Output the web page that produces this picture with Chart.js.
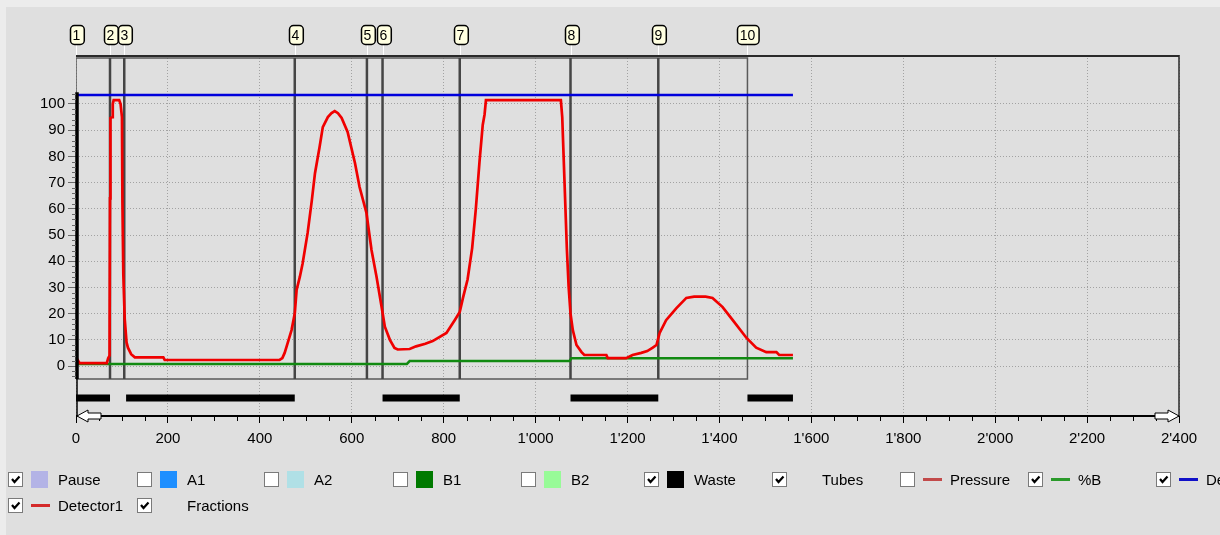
<!DOCTYPE html>
<html lang="en">
<head>
<meta charset="UTF-8" />
<title>Fraction run</title>
<script src="https://cdn.jsdelivr.net/npm/chart.js"></script>
<style>
  html, body { margin: 0; padding: 0; overflow: hidden; }
  body { width: 1220px; height: 535px; background: #ececec; position: relative;
         font-family: "Liberation Sans", Arial, sans-serif; }
  #panel { position: absolute; left: 6px; top: 7px; right: 0; bottom: 0; background: #dfdfdf; }
  #graph { position: absolute; left: 0; top: 0; }
  .leg { position: absolute; height: 15px; font-size: 15px; color: #000; white-space: nowrap; }
  .cb { position: absolute; left: 0; top: 0; width: 13px; height: 13px; background: #fff;
        border: 1px solid #7a7a7a; }
  .cb svg { position: absolute; left: 1px; top: 1px; }
  .sw { position: absolute; left: 23px; top: -1px; width: 17px; height: 17px; }
  .ln { position: absolute; left: 23px; top: 6px; width: 19px; height: 3px; }
  .tx { position: absolute; left: 50px; top: -1px; line-height: 17px; }
</style>
</head>
<body>
<div id="panel"></div>
<canvas id="graph" width="1220" height="535"></canvas>
<div id="legend"></div>

<script>
// ---- data (x = volume / time, y = signal) ----
const detTime = [0, 4, 8, 67, 70, 73, 74, 75, 79, 80, 82, 94, 97, 100, 101, 103, 106, 110, 113, 120, 128, 190, 193,
  443, 449, 454, 461, 469, 476, 480, 487, 493, 504, 513, 520, 530, 537, 548, 556, 563, 570, 578, 591, 607, 617, 632,
  643, 654, 665, 672, 683, 693, 700, 726, 740, 760, 776, 806, 824, 835, 842, 852, 862, 870, 878, 885, 889, 892,
  1055, 1058, 1063, 1068, 1072, 1076, 1081, 1089, 1100, 1106, 1154, 1157, 1197, 1211, 1230, 1243, 1255, 1263, 1270,
  1284, 1306, 1328, 1345, 1370, 1385, 1407, 1429, 1459, 1480, 1502, 1524, 1530, 1560];
const detSignal = [1.5, 2.2, 1.1, 1.1, 3, 4, 64, 94.6, 95, 100, 101.5, 101.5, 100, 95, 62.6, 34.7, 18, 9, 7, 4.5, 3.3, 3.3, 2.3,
  2.3, 3, 5, 9, 13.7, 20, 29, 34, 39, 50.8, 63, 73.6, 83.6, 91.2, 95, 96.5, 97.3, 96.5, 94.7, 89.3, 77.5, 68.3, 58.4,
  44.3, 34, 22.5, 15, 10, 6.9, 6.3, 6.5, 7.5, 8.5, 9.5, 12.6, 17.5, 20.6, 26, 33, 45, 60, 78, 92, 96, 101.5,
  101.5, 95, 70, 45, 30, 20, 13.7, 8, 5.3, 4.2, 4.2, 3, 3, 4.2, 5, 5.7, 7, 8, 12.6,
  17.5, 22, 26, 26.5, 26.5, 26, 22.5, 17.5, 10.7, 7, 5.3, 5.3, 4.2, 4.2];

const pctBTime = [0, 720, 726, 1074, 1078, 1560];
const pctBValue = [0.8, 0.8, 1.9, 1.9, 3.0, 3.0];

const det2Time = [0, 1560];
const det2Value = [103.4, 103.4];

const fracTimes = [0, 74, 105, 476, 633, 667, 835, 1076, 1267, 1461];
const fracLabels = ['1', '2', '3', '4', '5', '6', '7', '8', '9', '10'];

const wasteStart = [0, 109, 667, 1076, 1461];
const wasteEnd = [74, 476, 835, 1267, 1560];

const xTicks = [0, 200, 400, 600, 800, 1000, 1200, 1400, 1600, 1800, 2000, 2200, 2400];
const yTicks = [0, 10, 20, 30, 40, 50, 60, 70, 80, 90, 100];

const legendRow1 = [
  { label: 'Pause', on: true, mark: 'box', color: '#b3b3e6' },
  { label: 'A1', on: false, mark: 'box', color: '#1e8fff' },
  { label: 'A2', on: false, mark: 'box', color: '#b0e0e6' },
  { label: 'B1', on: false, mark: 'box', color: '#007a00' },
  { label: 'B2', on: false, mark: 'box', color: '#98fb98' },
  { label: 'Waste', on: true, mark: 'box', color: '#000000' },
  { label: 'Tubes', on: true, mark: 'none' },
  { label: 'Pressure', on: false, mark: 'line', color: '#c24a4a' },
  { label: '%B', on: true, mark: 'line', color: '#2a9a2a' },
  { label: 'De', on: true, mark: 'line', color: '#1010c8' }
];
const legendRow2 = [
  { label: 'Detector1', on: true, mark: 'line', color: '#d42a2a' },
  { label: 'Fractions', on: true, mark: 'none' }
];

// ---- layout constants ----
const FONT = '"Liberation Sans", Arial, sans-serif';
const Y_MIN = -19.08, Y_MAX = 118.7;
const BOX_TOP = 117.6, BOX_BOTTOM = -5;
const WASTE_LEVEL = -12.2;

const pts = (xs, ys) => xs.map((x, i) => ({ x: x, y: ys[i] }));

function fmtNum(v) {
  if (v < 1000) return String(v);
  return Math.floor(v / 1000) + "'" + String(v % 1000).padStart(3, '0');
}

const wastePts = [];
wasteStart.forEach((s, i) => {
  wastePts.push({ x: s, y: WASTE_LEVEL }, { x: wasteEnd[i], y: WASTE_LEVEL }, { x: wasteEnd[i], y: null });
});

const fracLinePts = [];
fracTimes.slice(1, -1).forEach(t => {
  fracLinePts.push({ x: t, y: BOX_BOTTOM }, { x: t, y: BOX_TOP }, { x: t, y: null });
});
const fracLast = fracTimes[fracTimes.length - 1];
const fracBoxPts = [
  { x: 0, y: BOX_BOTTOM }, { x: fracLast, y: BOX_BOTTOM }, { x: fracLast, y: BOX_TOP },
  { x: 0, y: BOX_TOP }, { x: 0, y: BOX_BOTTOM }
];

// axes, arrows, fraction labels
const decor = {
  id: 'decor',
  afterDraw(chart) {
    const { ctx, chartArea: a, scales: { x, y } } = chart;
    ctx.save();
    // frame top / right
    ctx.strokeStyle = '#2a2a2a';
    ctx.lineWidth = 2;
    ctx.beginPath(); ctx.moveTo(a.left, a.top + 1); ctx.lineTo(a.right, a.top + 1); ctx.stroke();
    ctx.lineWidth = 1.5;
    ctx.beginPath(); ctx.moveTo(a.right, a.top); ctx.lineTo(a.right, a.bottom); ctx.stroke();

    // y axis
    ctx.strokeStyle = '#000';
    ctx.lineWidth = 1.5;
    ctx.beginPath(); ctx.moveTo(a.left + 1, y.getPixelForValue(-5)); ctx.lineTo(a.left + 1, a.bottom); ctx.stroke();
    ctx.lineWidth = 3.5;
    ctx.beginPath(); ctx.moveTo(a.left + 1, y.getPixelForValue(104.5)); ctx.lineTo(a.left + 1, y.getPixelForValue(-5)); ctx.stroke();
    ctx.strokeStyle = '#6a6a6a';
    ctx.lineWidth = 1;
    for (let v = -4; v <= 104; v += 2) {
      if (v % 10 === 0 && v >= 0 && v <= 100) continue;
      const py = Math.round(y.getPixelForValue(v)) + 0.5;
      ctx.beginPath(); ctx.moveTo(a.left - 4, py); ctx.lineTo(a.left, py); ctx.stroke();
    }

    // x axis + minor ticks
    ctx.strokeStyle = '#000';
    ctx.lineWidth = 1;
    for (let v = 50; v < 2400; v += 50) {
      if (v % 200 === 0) continue;
      const px = Math.round(x.getPixelForValue(v)) + 0.5;
      ctx.beginPath(); ctx.moveTo(px, a.bottom); ctx.lineTo(px, a.bottom + 5); ctx.stroke();
    }
    ctx.lineWidth = 2;
    ctx.beginPath(); ctx.moveTo(a.left, a.bottom); ctx.lineTo(a.right, a.bottom); ctx.stroke();

    // arrows
    const arrow = (tip, dir) => {
      const yb = a.bottom;
      ctx.beginPath();
      ctx.moveTo(tip, yb);
      ctx.lineTo(tip + dir * 11, yb - 6);
      ctx.lineTo(tip + dir * 11, yb - 3);
      ctx.lineTo(tip + dir * 24, yb - 3);
      ctx.lineTo(tip + dir * 24, yb + 3);
      ctx.lineTo(tip + dir * 11, yb + 3);
      ctx.lineTo(tip + dir * 11, yb + 6);
      ctx.closePath();
      ctx.fillStyle = '#fff';
      ctx.fill();
      ctx.lineWidth = 1;
      ctx.strokeStyle = '#000';
      ctx.stroke();
    };
    arrow(a.left + 1, 1);
    arrow(a.right, -1);

    // fraction labels
    ctx.font = '14px ' + FONT;
    ctx.textAlign = 'center';
    ctx.textBaseline = 'middle';
    fracTimes.forEach((t, i) => {
      const px = Math.round(x.getPixelForValue(t)) + 0.5;
      ctx.strokeStyle = '#ffffff';
      ctx.lineWidth = 1;
      ctx.beginPath(); ctx.moveTo(px, 45); ctx.lineTo(px, a.top); ctx.stroke();
      const w = ctx.measureText(fracLabels[i]).width + 6;
      const bx = Math.round(px - w / 2) + 0.5, by = 25.5, h = 19;
      ctx.beginPath();
      ctx.roundRect(bx, by, w, h, 4);
      ctx.fillStyle = '#ffffe1';
      ctx.fill();
      ctx.strokeStyle = '#000';
      ctx.lineWidth = 1.5;
      ctx.stroke();
      ctx.fillStyle = '#000';
      ctx.fillText(fracLabels[i], px, by + h / 2 + 1);
    });
    ctx.restore();
  }
};

new Chart(document.getElementById('graph'), {
  type: 'line',
  data: {
    datasets: [
      { data: pts(det2Time, det2Value), borderColor: '#0000dc', borderWidth: 2.5 },
      { data: pts(detTime, detSignal), borderColor: '#f00000', borderWidth: 2.7 },
      { data: pts(pctBTime, pctBValue), borderColor: '#118a11', borderWidth: 2.5 },
      { data: wastePts, borderColor: '#000', borderWidth: 7, borderCapStyle: 'butt' },
      { data: fracLinePts, borderColor: '#454545', borderWidth: 2.5, borderCapStyle: 'butt' },
      { data: fracBoxPts, borderColor: '#5a5a5a', borderWidth: 1.5 }
    ]
  },
  options: {
    responsive: false,
    devicePixelRatio: 1,
    animation: false,
    events: [],
    layout: { padding: { left: 0, right: 41, top: 55, bottom: 0 } },
    elements: { point: { radius: 0 }, line: { tension: 0 } },
    plugins: { legend: { display: false }, tooltip: { enabled: false } },
    scales: {
      x: {
        type: 'linear', min: 0, max: 2400,
        afterBuildTicks: s => { s.ticks = xTicks.map(v => ({ value: v })); },
        afterFit: s => { s.height = 119; },
        grid: { color: '#a2a2a2', lineWidth: 1, tickLength: 7, tickColor: '#000' },
        border: { display: false, dash: [1, 2] },
        ticks: { font: { family: FONT, size: 15 }, color: '#000', padding: 7, maxRotation: 0, autoSkip: false,
                 callback: v => fmtNum(v) }
      },
      y: {
        type: 'linear', min: Y_MIN, max: Y_MAX,
        afterBuildTicks: s => { s.ticks = yTicks.map(v => ({ value: v })); },
        afterFit: s => { s.width = 76; },
        grid: { color: '#a2a2a2', lineWidth: 1, tickLength: 8, tickColor: '#6a6a6a' },
        border: { display: false, dash: [1, 2] },
        ticks: { font: { family: FONT, size: 15 }, color: '#000', padding: 3, autoSkip: false }
      }
    }
  },
  plugins: [decor]
});

// ---- legend (checkbox rows under the chart) ----
const legendCols = [8, 137, 264, 393, 521, 644, 772, 900, 1028, 1156];
const legendEl = document.getElementById('legend');
const tick = '<svg width="11" height="11" viewBox="0 0 11 11"><path d="M2 5 L4.5 8 L9.5 2.5" stroke="#000" stroke-width="2.2" fill="none"/></svg>';

function addRow(items, top) {
  items.forEach((it, i) => {
    const d = document.createElement('div');
    d.className = 'leg';
    d.style.left = legendCols[i] + 'px';
    d.style.top = top + 'px';
    let html = '<div class="cb">' + (it.on ? tick : '') + '</div>';
    if (it.mark === 'box') html += '<div class="sw" style="background:' + it.color + '"></div>';
    if (it.mark === 'line') html += '<div class="ln" style="background:' + it.color + '"></div>';
    html += '<span class="tx">' + it.label + '</span>';
    d.innerHTML = html;
    legendEl.appendChild(d);
  });
}
addRow(legendRow1, 472);
addRow(legendRow2, 498);
</script>
</body>
</html>
